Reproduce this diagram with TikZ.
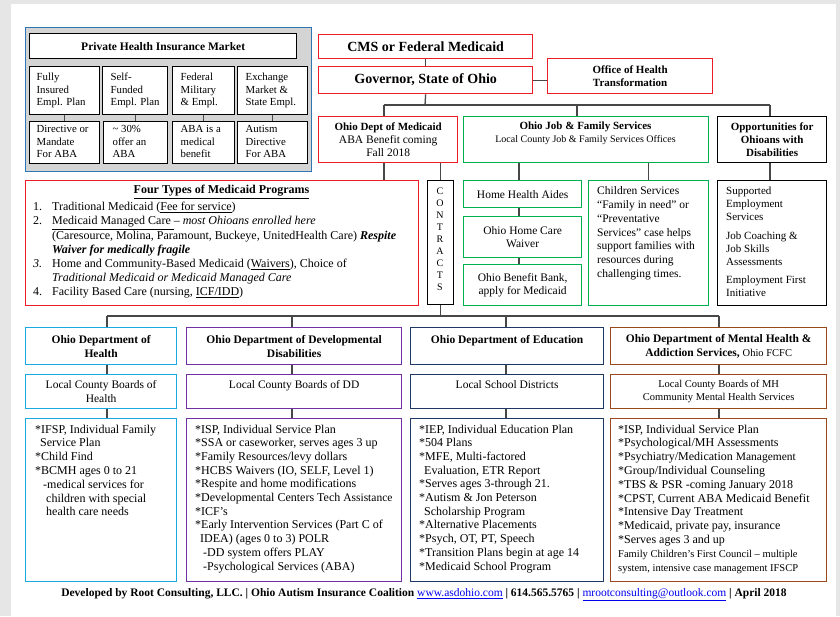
\documentclass[tikz,border=0pt]{standalone}
\usepackage{fontspec}
\setmainfont{Liberation Serif}
\definecolor{pagegray}{HTML}{E6E6E6}
\definecolor{fblue}{HTML}{2E75B6}
\definecolor{redc}{HTML}{EE1C24}
\definecolor{greenc}{HTML}{00B050}
\definecolor{cyanc}{HTML}{1BA9E3}
\definecolor{purplec}{HTML}{7030A0}
\definecolor{navyc}{HTML}{1F3864}
\definecolor{brownc}{HTML}{9A4A1A}
\definecolor{linkblue}{HTML}{0000EE}
\newcommand\fs[2]{\fontsize{#1}{#2}\selectfont}
\newcommand\mybox[7]{\node[#1,anchor=north west,minimum width={#5-#3},minimum height={#6-#4}] (#2) at (#3,#4) {#7};}
\newcommand\lcol[2]{\makebox[#1][l]{\begin{tabular}{@{}l@{}}#2\end{tabular}}}
\tikzset{
  bx/.style={draw=#1, line width=1.3pt, fill=white, inner sep=0pt, align=center},
  conn/.style={draw=black!72, line width=1.3pt},
  thinconn/.style={draw=black!70, line width=1pt},
  tx/.style={inner sep=0pt, anchor=north west, align=left},
  small/.style={bx=black, font=\fs{10.8}{12.5}},
}
\begin{document}
\begin{tikzpicture}[x=1pt,y=-1pt]
\useasboundingbox (0,0) rectangle (840,616);
\fill[pagegray] (0,0) rectangle (840,616);
\fill[white] (11,4) rectangle (836,616);

% ---------- Private insurance block ----------
\mybox{bx=fblue, fill=black!17, line width=1.2pt}{frame}{25}{27}{311}{171}{}
\mybox{bx=black, font=\fs{11.5}{13}\bfseries}{phim}{29}{33}{296}{58}{Private Health Insurance Market}
\mybox{small}{r1a}{29}{66}{99}{114}{\lcol{56pt}{Fully\\Insured\\Empl. Plan}}
\mybox{small}{r1b}{102}{66}{167}{114}{\lcol{49pt}{Self-\\Funded\\Empl. Plan}}
\mybox{small}{r1c}{172}{66}{234}{114}{\lcol{46pt}{Federal\\Military\\\& Empl.}}
\mybox{small}{r1d}{237}{66}{307}{114}{\lcol{54pt}{Exchange\\Market \&\\State Empl.}}
\mybox{small}{r2a}{29}{121}{99}{163}{\lcol{56pt}{Directive or\\Mandate\\For ABA}}
\mybox{small}{r2b}{103}{121}{167}{163}{\lcol{46pt}{\textasciitilde{} 30\%\\offer an\\ABA}}
\mybox{small}{r2c}{172}{121}{234}{163}{\lcol{46pt}{ABA is a\\medical\\benefit}}
\mybox{small}{r2d}{237}{121}{307}{163}{\lcol{54pt}{Autism\\Directive\\For ABA}}
\foreach \a/\b in {r1a/r2a,r1b/r2b,r1c/r2c,r1d/r2d}
  \draw[thinconn] (\a.south) -- (\a.south |- \b.north);

% ---------- Top of government chart ----------
\mybox{bx=redc, font=\fs{14}{16}\bfseries}{cms}{318}{34}{532}{58}{CMS or Federal Medicaid}
\mybox{bx=redc, font=\fs{14}{16}\bfseries}{gov}{318}{66}{532}{93}{Governor, State of Ohio}
\mybox{bx=redc, font=\fs{11}{13}\bfseries}{oht}{547}{58}{712}{93}{Office of Health\\Transformation}
\draw[conn] (cms.south) -- (gov.north);
\draw[conn] (gov.east) -- (gov.east -| oht.west);

\mybox{bx=redc, font=\fs{11.5}{13}}{med}{318}{116}{457}{162}{{\fs{11}{13}\bfseries Ohio Dept of Medicaid}\\ABA Benefit coming\\Fall 2018}
\mybox{bx=greenc}{jfs}{463}{116}{708}{162}{}
\node[inner sep=0pt, align=center, font=\fs{11}{13}] (jfst) at (585.5,133.5) {\textbf{Ohio Job \& Family Services}\\{\fs{10}{13}Local County Job \& Family Services Offices}};
\mybox{bx=black, font=\fs{11}{13}\bfseries}{opp}{717}{116}{826}{162}{Opportunities for\\Ohioans with\\Disabilities}

\coordinate (busA) at (425,105);
\coordinate (dMed) at (384,105);
\coordinate (dOpp) at (770,105);
\coordinate (dJfs) at (577,105);
\draw[conn] (gov.south) -- (busA);
\draw[conn] (dMed) -- (dOpp);
\draw[conn] (dMed) -- (dMed |- med.north);
\draw[conn] (dJfs) -- (dJfs |- jfs.north);
\draw[conn] (dOpp) -- (dOpp |- opp.north);

% ---------- Middle row ----------
\mybox{bx=redc}{four}{25}{180}{418}{305}{}
\node[inner sep=0pt, font=\fs{12}{14}\bfseries] (fourh) at (221.5,192) {\underline{Four Types of Medicaid Programs}};
\node[tx, font=\fs{12}{14.2}] (fourt) at (33,202) {%
\makebox[19pt][l]{1.}Traditional Medicaid (\underline{Fee for service})\\
\makebox[19pt][l]{2.}\underline{Medicaid Managed Care }– \textit{most Ohioans enrolled here}\\
\hspace*{19pt}(Caresource, Molina, Paramount, Buckeye, UnitedHealth Care) \textbf{\textit{Respite}}\\
\hspace*{19pt}\textbf{\textit{Waiver for medically fragile}}\\
\makebox[19pt][l]{\textit{3.}}Home and Community-Based Medicaid (\underline{Waivers}), Choice of\\
\hspace*{19pt}\textit{Traditional Medicaid or Medicaid Managed Care}\\
\makebox[19pt][l]{4.}Facility Based Care (nursing, \underline{ICF/IDD})};

\mybox{bx=black}{con}{427}{180}{453}{304}{}
\node[inner sep=0pt, align=center, font=\fs{10}{12}] (cont) at (440,239) {C\\O\\N\\T\\R\\A\\C\\T\\S};
\draw[conn] (con.north |- med.south) -- (con.north);
\draw[conn] (dMed |- med.south) -- (dMed |- four.north);

\mybox{bx=greenc, font=\fs{11.5}{13.5}}{hha}{463}{180}{581}{207}{Home Health Aides}
\mybox{bx=greenc, font=\fs{11.5}{13.8}}{hcw}{463}{216}{581}{257}{Ohio Home Care\\Waiver}
\mybox{bx=greenc, font=\fs{11.5}{13.8}}{obb}{463}{264}{581}{305}{Ohio Benefit Bank,\\apply for Medicaid}
\coordinate (jx) at (519,0);
\draw[conn] (jx |- jfs.south) -- (jx |- hha.north);
\draw[conn] (jx |- hha.south) -- (jx |- hcw.north);
\draw[conn] (jx |- hcw.south) -- (jx |- obb.north);

\mybox{bx=greenc}{chi}{588}{180}{708}{305}{}
\node[tx, font=\fs{11.5}{13.8}] (chit) at (597,186.5) {Children Services\\“Family in need” or\\“Preventative\\Services” case helps\\support families with\\resources during\\challenging times.};
\draw[conn] (chi.north |- jfs.south) -- (chi.north);

\mybox{bx=black}{opps}{717}{180}{826}{305}{}
\node[tx, font=\fs{11}{13}] (oppst) at (726,187) {Supported\\Employment\\Services\\[5.5pt]Job Coaching \&\\Job Skills\\Assessments\\[5.5pt]Employment First\\Initiative};
\draw[conn] (dOpp |- opp.south) -- (dOpp |- opps.north);

% ---------- Bottom bus ----------
\coordinate (c1) at (107,316);
\coordinate (c2) at (292,316);
\coordinate (c3) at (506,316);
\coordinate (c4) at (719,316);
\draw[conn] (c1) -- (c4);
\draw[conn] (con.south) -- (con.south |- c1);

% ---------- Department columns ----------
\mybox{bx=cyanc, font=\fs{11.5}{14}\bfseries}{odh}{25}{327}{176}{364}{Ohio Department of\\Health}
\mybox{bx=purplec, font=\fs{11.5}{14}\bfseries}{dodd}{186}{327}{401}{364}{Ohio Department of Developmental\\Disabilities}
\mybox{bx=navyc, font=\fs{11.5}{14}\bfseries}{edu}{410}{327}{603}{364}{Ohio Department of Education\\\mbox{}}
\mybox{bx=brownc, font=\fs{11.5}{14}\bfseries}{mh}{610}{327}{826}{364}{Ohio Department of Mental Health \&\\Addiction Services, {\mdseries\fs{10.5}{14}Ohio FCFC}}

\mybox{bx=cyanc, font=\fs{11.5}{14}}{odhl}{25}{374}{176}{408}{Local County Boards of\\Health}
\mybox{bx=purplec, font=\fs{11.5}{14}}{doddl}{186}{374}{401}{408}{Local County Boards of DD\\\mbox{}}
\mybox{bx=navyc, font=\fs{11.5}{14}}{edul}{410}{374}{603}{408}{Local School Districts\\\mbox{}}
\mybox{bx=brownc, font=\fs{10.5}{13}}{mhl}{610}{374}{826}{408}{Local County Boards of MH\\Community Mental Health Services}

\mybox{bx=cyanc}{odhs}{25}{418}{176}{581}{}
\mybox{bx=purplec}{udds}{186}{418}{401}{581}{}
\mybox{bx=navyc}{edus}{410}{418}{603}{581}{}
\mybox{bx=brownc}{mhs}{610}{418}{826}{581}{}

\foreach \c/\a/\b/\s in {c1/odh/odhl/odhs, c2/dodd/doddl/udds, c3/edu/edul/edus, c4/mh/mhl/mhs}{
  \draw[conn] (\c) -- (\c |- \a.north);
  \draw[conn] (\c |- \a.south) -- (\c |- \b.north);
  \draw[conn] (\c |- \b.south) -- (\c |- \s.north);
}

\node[tx, font=\fs{12}{13.8}] (odht) at (35,424.5) {*IFSP, Individual Family\\
\hspace*{5pt}Service Plan\\
*Child Find\\
*BCMH ages 0 to 21\\
\hspace*{8pt}-medical services for\\
\hspace*{11pt}children with special\\
\hspace*{11pt}health care needs};

\node[tx, font=\fs{12}{13.7}] (doddt) at (195,424.5) {*ISP, Individual Service Plan\\
*SSA or caseworker, serves ages 3 up\\
*Family Resources/levy dollars\\
*HCBS Waivers (IO, SELF, Level 1)\\
*Respite and home modifications\\
*Developmental Centers Tech {\fs{11.5}{13.7}Assistance}\\
*ICF’s\\
*Early Intervention Services (Part C of\\
\hspace*{5pt}IDEA) (ages 0 to 3) POLR\\
\hspace*{8pt}-DD system offers PLAY\\
\hspace*{8pt}-Psychological Services (ABA)};

\node[tx, font=\fs{12}{13.7}] (edut) at (419,424.5) {*IEP, Individual Education Plan\\
*504 Plans\\
*MFE, Multi-factored\\
\hspace*{5pt}Evaluation, ETR Report\\
*Serves ages 3-through 21.\\
*Autism \& Jon Peterson\\
\hspace*{5pt}Scholarship Program\\
*Alternative Placements\\
*Psych, OT, PT, Speech\\
*Transition Plans begin at age 14\\
*Medicaid School Program};

\node[tx, font=\fs{12}{13.8}] (mht) at (618,424.5) {*ISP, Individual Service Plan\\
*Psychological/MH Assessments\\
*Psychiatry/Medication {\fs{11.5}{13.8}Management}\\
*Group/Individual Counseling\\
*TBS \& PSR -coming January 2018\\
*CPST, Current ABA Medicaid Benefit\\
*Intensive Day Treatment\\
*Medicaid, private pay, insurance\\
*Serves ages 3 and up\\
{\fs{10.5}{13.8}Family Children’s First Council – multiple}\\
{\fs{10.5}{13.8}system, intensive case management IFSCP}};

% ---------- Footer ----------
\node[inner sep=0pt, font=\fs{11.5}{13}\bfseries] (foot) at (424,595) {Developed by Root Consulting, LLC. | Ohio Autism Insurance Coalition {\mdseries\color{linkblue}\underline{www.asdohio.com}} | 614.565.5765 | {\mdseries\color{linkblue}\underline{mrootconsulting@outlook.com}} | April 2018};
\end{tikzpicture}
\end{document}
